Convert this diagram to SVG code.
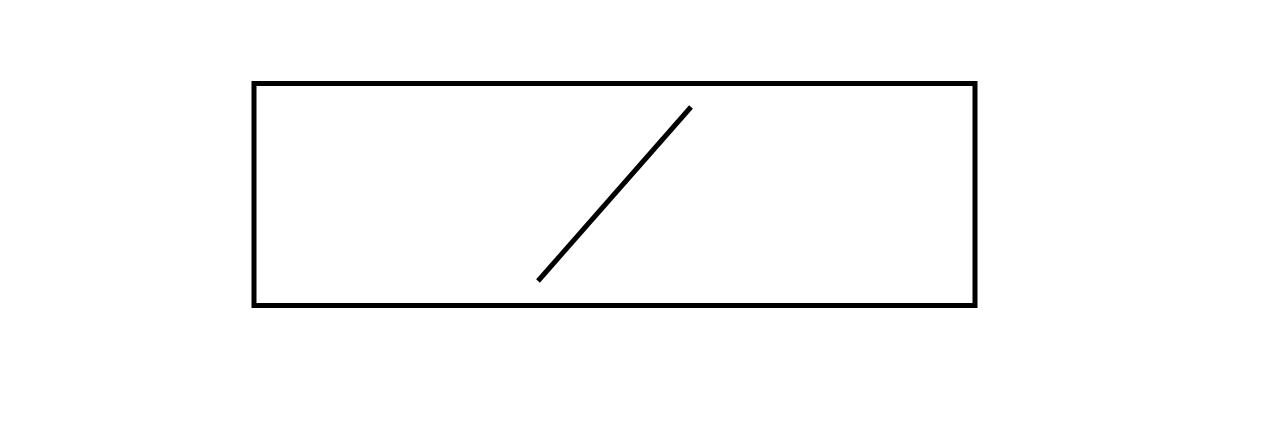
<svg xmlns="http://www.w3.org/2000/svg" width="1280" height="430" viewBox="0 0 1280 430">
<style>.s{fill:none;stroke:#000;stroke-width:5}</style>
<rect width="1280" height="430" fill="#fff"/>
<g id="box"><rect class="s" x="254" y="83.5" width="721" height="222"/></g>
<g id="connectors"><line class="s" x1="538" y1="281" x2="691" y2="107" stroke-width="4.5"/></g>
</svg>
